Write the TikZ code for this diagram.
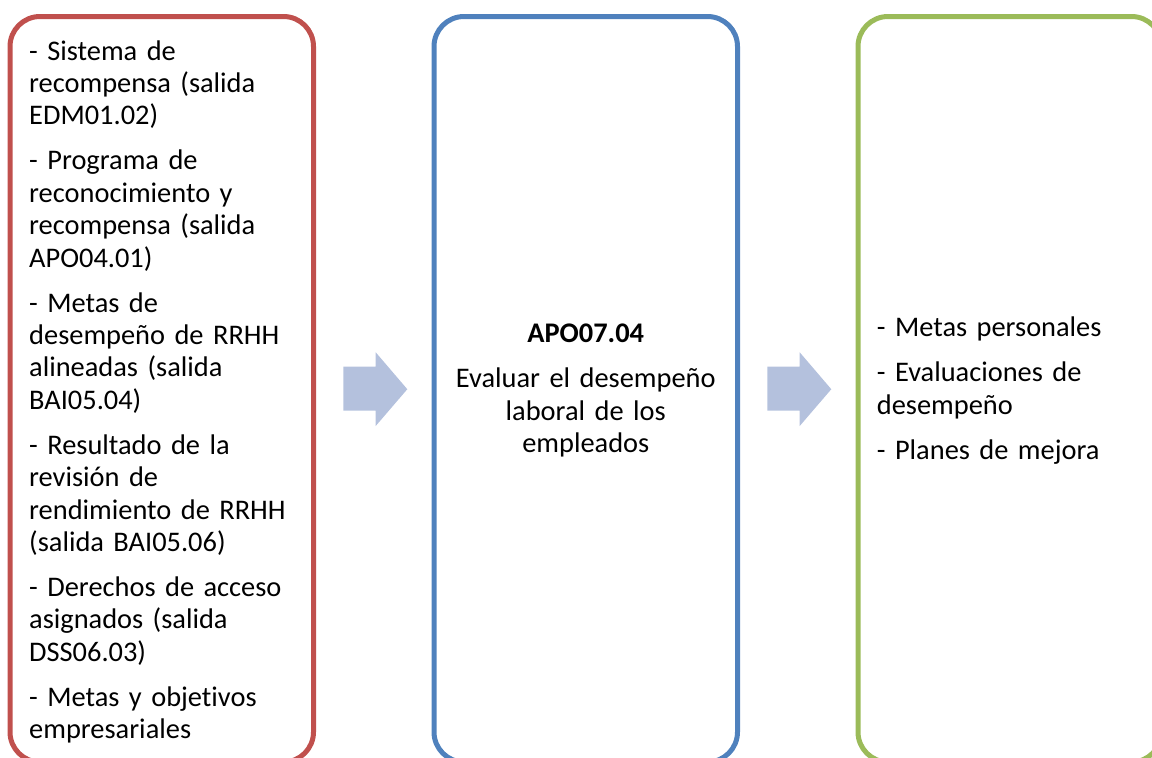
\documentclass[tikz,border=0pt]{standalone}
\usepackage{fontspec}
\setmainfont{Carlito}[Ligatures=NoCommon]
\definecolor{inred}{HTML}{C0504D}
\definecolor{procblue}{HTML}{4F81BD}
\definecolor{outgreen}{HTML}{9BBB59}
\definecolor{flowarrow}{HTML}{B4C1DD}

\begin{document}
\begin{tikzpicture}[x=1pt,y=1pt,
  panel/.style={rectangle, line width=5pt, rounded corners=30pt,
    minimum width=303.5pt, minimum height=745.5pt, inner sep=0pt},
  paneltext/.style={inner sep=0pt, font=\fontsize{28.4}{32.4}\selectfont},
  blockarrow/.style={fill=flowarrow, draw=none}]
\useasboundingbox (0,0) rectangle (1152,-758);

% the three panels: inputs, activity, outputs
\node[panel, draw=inred]    (inputs)   at (161.75,-389.25) {};
\node[panel, draw=procblue] (activity) at (585.75,-389.25) {};
\node[panel, draw=outgreen] (outputs)  at (1009.75,-389.25) {};

% block arrows between the panels
\foreach \L in {343.3, 767.3} {
  \fill[blockarrow] (\L,-366.7) -- (\L+32.4,-366.7) -- (\L+32.4,-352.3)
    -- (\L+64,-389.2) -- (\L+32.4,-426) -- (\L+32.4,-410.7)
    -- (\L,-410.7) -- cycle;
}

% inputs
\node[paneltext, anchor=north west, text width=285pt, align=left] (intext)
  at (29,-37.3) {\strut- Sistema de\\
  recompensa (salida\\
  EDM01.02)\\[12.6pt]
  - Programa de\\
  reconocimiento y\\
  recompensa (salida\\
  APO04.01)\\[12.6pt]
  - Metas de\\
  desempeño de RRHH\\
  alineadas (salida\\
  BAI05.04)\\[12.6pt]
  - Resultado de la\\
  revisión de\\
  rendimiento de RRHH\\
  (salida BAI05.06)\\[12.6pt]
  - Derechos de acceso\\
  asignados (salida\\
  DSS06.03)\\[12.6pt]
  - Metas y objetivos\\
  empresariales};

% activity
\node[paneltext, anchor=north, text width=290pt, align=center] (acttext)
  at (585.75,-320) {\strut\textbf{APO07.04}\\[12.6pt]
  Evaluar el desempeño\\
  laboral de los\\
  empleados};

% outputs
\node[paneltext, anchor=north west, text width=270pt, align=left] (outtext)
  at (876.7,-314) {\strut- Metas personales\\[12.6pt]
  - Evaluaciones de\\
  desempeño\\[12.6pt]
  - Planes de mejora};
\end{tikzpicture}
\end{document}
